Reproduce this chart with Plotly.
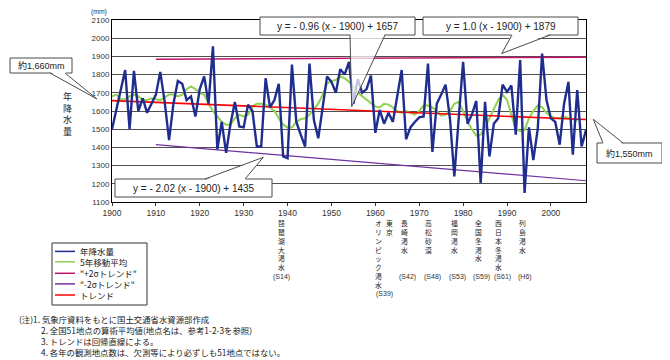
import plotly.graph_objects as go

# ---------------- data ----------------
start_year = 1900
precip = [1500, 1610, 1720, 1825, 1500, 1820, 1600, 1670, 1590, 1640,
          1690, 1815, 1650, 1440, 1640, 1765, 1750, 1660, 1680, 1570,
          1720, 1790, 1640, 1955, 1390, 1540, 1370, 1530, 1650, 1515,
          1510, 1635, 1600, 1405, 1405, 1780, 1620, 1660, 1750, 1350,
          1340, 1855, 1540, 1470, 1405, 1860, 1550, 1450, 1620, 1790,
          1760, 1700, 1830, 1800, 1870, 1640, 1775, 1700, 1720, 1795,
          1480, 1605, 1530, 1590, 1540, 1690, 1825, 1445, 1510, 1540,
          1565, 1570, 1860, 1375, 1640, 1690, 1745, 1560, 1240, 1560,
          1870, 1530, 1580, 1655, 1205, 1650, 1350, 1530, 1560, 1745,
          1705, 1740, 1470, 1880, 1150, 1510, 1330, 1500, 1915, 1660,
          1560, 1540, 1415, 1640, 1760, 1360, 1715, 1405, 1495]
years = [start_year + i for i in range(len(precip))]

ma5 = [1680, 1690, 1665, 1665, 1680, 1690, 1680, 1660, 1660, 1670,
       1665, 1660, 1675, 1690, 1690, 1680, 1690, 1720, 1735, 1720,
       1700, 1690, 1640, 1600, 1570, 1540, 1525, 1525, 1560, 1580,
       1570, 1580, 1625, 1640, 1640, 1635, 1620, 1600, 1560, 1525,
       1510, 1510, 1540, 1555, 1560, 1580, 1610, 1640, 1690, 1750,
       1765, 1770, 1790, 1780, 1760, 1735, 1700, 1680, 1660, 1640,
       1625, 1620, 1640, 1635, 1620, 1600, 1590, 1600, 1590, 1580,
       1600, 1630, 1630, 1620, 1600, 1575, 1580, 1600, 1640, 1650,
       1600, 1540, 1500, 1465, 1470, 1510, 1560, 1610, 1660, 1690,
       1660, 1580, 1500, 1490, 1495, 1560, 1600, 1630, 1620, 1590,
       1570, 1560, 1560, 1570, 1560, 1555, 1545]
ma_years = [start_year + i for i in range(len(ma5))]

trend_slope, trend_icpt = -0.96, 1657
trend_years = [1900, 2008]
minus2s_slope, minus2s_icpt = -2.02, 1435
minus2s_years = [1910, 2008]
plus2s_years = [1910, 2008]
plus2s_vals = [1885, 1896]

x_ticks = list(range(1900, 2001, 10))

legend_names = ["年降水量", "5年移動平均", '"+2σトレンド"', '"-2σトレンド"', "トレンド"]
droughts = [("琵琶湖大渇水", "(S14)"), ("オリンピック渇水", "(S39)"), ("長崎渇水", "(S42)"),
            ("高松砂漠", "(S48)"), ("福岡渇水", "(S53)"), ("全国冬渇水", "(S59)"),
            ("西日本冬渇水", "(S61)"), ("列島渇水", "(H6)")]
notes = ["(注)1. 気象庁資料をもとに国土交通省水資源部作成",
         "2. 全国51地点の算術平均値(地点名は、参考1-2-3を参照)",
         "3. トレンドは回帰直線による。",
         "4. 各年の観測地点数は、欠測等により必ずしも51地点ではない。"]

C_BLUE, C_GREEN, C_PLUS, C_MINUS, C_RED = "#1f2d8f", "#92d050", "#c0146a", "#7030a0", "#ff0000"
FONT = "Liberation Sans, Arial, Noto Sans CJK JP"
JFONT = "Noto Sans CJK JP, Liberation Sans"

# ---------------- figure geometry (page pixels; page body has an 8px margin) ----------------
OFF = 8
W, H = 670 - OFF, 360 - OFF
L, T = 112 - OFF, 20 - OFF
PW, PH = 474, 182
R, B = W - L - PW, H - T - PH


def PX(x):
    return (x - OFF - L) / PW


def PY(y):
    return (T + PH - (y - OFF)) / PH


fig = go.Figure()
fig.add_trace(go.Scatter(x=plus2s_years, y=plus2s_vals, mode="lines",
                         line=dict(color=C_PLUS, width=1.5), name=legend_names[2]))
fig.add_trace(go.Scatter(x=minus2s_years,
                         y=[minus2s_slope * (y - 1900) + minus2s_icpt for y in minus2s_years],
                         mode="lines", line=dict(color=C_MINUS, width=1.2), name=legend_names[3]))
fig.add_trace(go.Scatter(x=ma_years, y=ma5, mode="lines",
                         line=dict(color=C_GREEN, width=2), name=legend_names[1]))
fig.add_trace(go.Scatter(x=trend_years,
                         y=[trend_slope * (y - 1900) + trend_icpt for y in trend_years],
                         mode="lines", line=dict(color=C_RED, width=1.6), name=legend_names[4]))
fig.add_trace(go.Scatter(x=years, y=precip, mode="lines",
                         line=dict(color=C_BLUE, width=2.4), name=legend_names[0]))

shapes = []
annotations = []


def text_at(text, x, y, size, family=FONT, xanchor="center", yanchor="middle", color="#222"):
    annotations.append(dict(text=text, xref="paper", yref="paper", x=PX(x), y=PY(y),
                            xanchor=xanchor, yanchor=yanchor, showarrow=False, borderpad=0,
                            font=dict(size=size, family=family, color=color)))


def callout(text, box, b1, b2, tip, fill_opacity=1.0, size=10):
    x0, y0, x1, y1 = box
    shapes.append(dict(type="rect", xref="paper", yref="paper",
                       x0=PX(x0), x1=PX(x1), y0=PY(y1), y1=PY(y0),
                       fillcolor="white", line=dict(color="#4a4a4a", width=1), layer="above"))
    inside = 1.2 if b1[1] >= y1 - 0.5 else -1.2
    by = b1[1] - inside
    path = (f"M {PX(b1[0])},{PY(by)} L {PX(tip[0])},{PY(tip[1])} "
            f"L {PX(b2[0])},{PY(by)} Z")
    shapes.append(dict(type="path", xref="paper", yref="paper", path=path,
                       fillcolor="white", opacity=fill_opacity,
                       line=dict(width=0), layer="above"))
    if fill_opacity < 1:
        shapes.append(dict(type="line", xref="paper", yref="paper",
                           x0=PX(b1[0] + 0.8), x1=PX(b2[0] - 0.8), y0=PY(b1[1]), y1=PY(b1[1]),
                           line=dict(color="white", width=2), layer="above"))
    for b in (b1, b2):
        shapes.append(dict(type="line", xref="paper", yref="paper",
                           x0=PX(b[0]), y0=PY(b[1]), x1=PX(tip[0]), y1=PY(tip[1]),
                           line=dict(color="#4a4a4a", width=1), layer="above"))
    text_at(text, (x0 + x1) / 2, (y0 + y1) / 2, size)


callout(f"y = - {abs(trend_slope):.2f} (x - 1900) + {trend_icpt}", (260, 17, 415, 35),
        (350, 35), (385, 35), (351.7, 106.7), fill_opacity=0.72)
callout("y = 1.0 (x - 1900) + 1879", (423, 17, 578, 35),
        (512, 35), (550, 35), (501.7, 53.5))
callout(f"y = - {abs(minus2s_slope):.2f} (x - 1900) + {minus2s_icpt}", (115, 179, 272, 197),
        (205, 179), (245, 179), (263.3, 157.3))
callout("約1,660mm", (10, 58, 72, 73), (50, 73), (65, 73), (97, 99), size=9)
callout("約1,550mm", (597, 143, 662, 163), (603, 143), (623, 143), (593.3, 119.3), size=9)

# (mm) unit
text_at("(mm)", 99, 12.3, 6.8, color="#333")


def vtext(s, x, y_top, size):
    text_at("<br>".join(s), x, y_top, size, family=JFONT, yanchor="top")


# y-axis title
vtext("年降水量", 67, 89, 9)

# drought labels
d_x = [281, 378, 404, 428, 454, 478, 498, 522]
d_tag_x = [281, 384, 407, 432, 457, 481, 502, 525]
for (name, tag), x, tx in zip(droughts, d_x, d_tag_x):
    vtext(name, x, 217, 6.8)
    ty = 294 if tag == "(S39)" else 277
    text_at(tag, tx, ty, 7, color="#333")
vtext("東京", 389, 217, 6.8)

# legend (hand drawn)
shapes.append(dict(type="rect", xref="paper", yref="paper", x0=PX(52), x1=PX(147),
                   y0=PY(305), y1=PY(243), line=dict(color="#333", width=1),
                   fillcolor="white", layer="above"))
leg_colors = [C_BLUE, C_GREEN, C_PLUS, C_MINUS, C_RED]
leg_y = [251.4, 261.8, 273.3, 283.9, 295]
for name, col, y in zip(legend_names, leg_colors, leg_y):
    shapes.append(dict(type="line", xref="paper", yref="paper", x0=PX(55), x1=PX(75),
                       y0=PY(y), y1=PY(y), line=dict(color=col, width=1.5), layer="above"))
    text_at(name, 79, y, 8.5, family=JFONT, xanchor="left")

# notes
note_x = [18, 40, 40, 40]
note_y = [319, 330, 341, 352]
for t, x, y in zip(notes, note_x, note_y):
    text_at(t, x, y, 8.4, family=JFONT, xanchor="left")

fig.update_layout(
    width=W, height=H,
    margin=dict(l=L, r=R, t=T, b=B, pad=0, autoexpand=False),
    paper_bgcolor="white", plot_bgcolor="white",
    showlegend=False,
    shapes=shapes, annotations=annotations,
    xaxis=dict(range=[1900, 2008], tickvals=x_ticks, ticks="outside", ticklen=3,
               tickcolor="#333", showgrid=False, showline=True, linecolor="black",
               linewidth=1, mirror=True, zeroline=False,
               tickfont=dict(size=8.5, family=FONT, color="#333")),
    yaxis=dict(range=[1100, 2100], dtick=100, showgrid=True, gridcolor="#505050",
               gridwidth=1, showline=True, linecolor="black", linewidth=1, mirror=True,
               zeroline=False, ticks="", tickfont=dict(size=8, family=FONT, color="#333")),
)

fig.write_html("out.html")
